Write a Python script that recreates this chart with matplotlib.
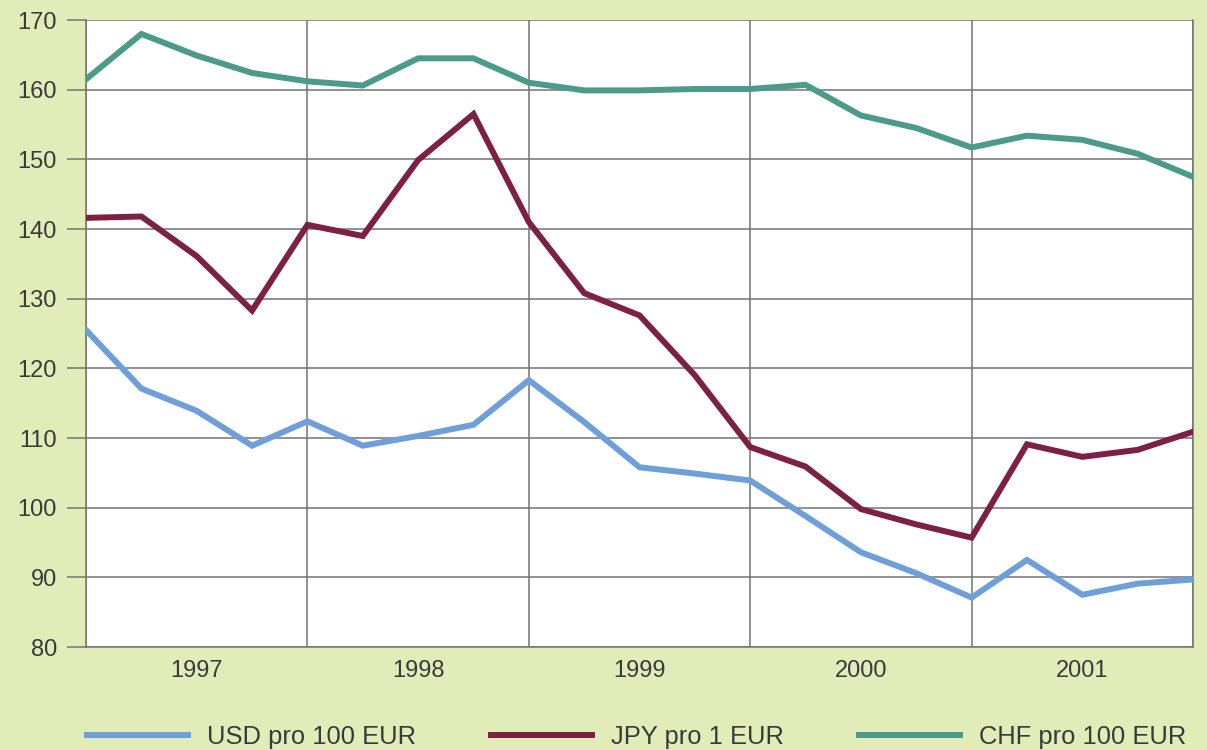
import matplotlib.pyplot as plt

plt.rcParams["font.family"] = ["Liberation Sans", "DejaVu Sans"]

# Quarterly exchange rates, 1997 - 2001 (21 points, start of 1997 to end of 2001)
quarters = list(range(21))
usd = [125.5, 117.1, 113.9, 108.9, 112.4, 108.9, 110.3, 111.9, 118.3, 112.3, 105.8,
       104.9, 103.9, 98.8, 93.6, 90.6, 87.1, 92.5, 87.5, 89.1, 89.7]
jpy = [141.6, 141.8, 136.1, 128.3, 140.6, 139.0, 149.9, 156.5, 141.0, 130.8, 127.6,
       119.0, 108.7, 105.9, 99.8, 97.6, 95.7, 109.1, 107.3, 108.3, 110.9]
chf = [161.5, 168.0, 164.9, 162.4, 161.2, 160.6, 164.5, 164.5, 161.0, 159.9, 159.9,
       160.1, 160.1, 160.7, 156.3, 154.5, 151.7, 153.4, 152.8, 150.8, 147.5]
years = ["1997", "1998", "1999", "2000", "2001"]

bg = "#e2ecb9"
txt = "#3a3a3a"
grid = "#737373"

fig = plt.figure(figsize=(12.07, 7.5), dpi=100, facecolor=bg)
ax = fig.add_axes([0.0713, 0.1373, 0.9171, 0.836])
ax.set_facecolor("white")

ax.plot(quarters, usd, color="#6f9fd8", lw=4.3, solid_joinstyle="miter", label="USD pro 100 EUR", zorder=3)
ax.plot(quarters, jpy, color="#7c2143", lw=4.3, solid_joinstyle="miter", label="JPY pro 1 EUR", zorder=3)
ax.plot(quarters, chf, color="#4b9a8a", lw=4.3, solid_joinstyle="miter", label="CHF pro 100 EUR", zorder=3)

ax.set_xlim(0, 20)
ax.set_ylim(80, 170)

ax.set_yticks(range(80, 171, 10))
ax.tick_params(axis="y", length=14, width=1.1, color=grid, pad=7, labelsize=17, labelcolor=txt)

# year boundaries as grid lines, year names centred between them
ax.set_xticks([0, 4, 8, 12, 16, 20])
ax.set_xticklabels([])
ax.set_xticks([2, 6, 10, 14, 18], minor=True)
ax.set_xticklabels(years, minor=True)
ax.tick_params(axis="x", which="both", length=0, pad=9, labelsize=17, labelcolor=txt)

ax.grid(True, which="major", color=grid, lw=1.1)
for s in ax.spines.values():
    s.set_color(grid)
    s.set_linewidth(1.1)
ax.spines["top"].set_visible(False)

fig.legend(loc="center left", bbox_to_anchor=(87 / 1207, 1 - 737 / 750), ncol=3, frameon=False,
           fontsize=18.4, labelcolor=txt, handlelength=3.95, handletextpad=0.74,
           columnspacing=2.95, borderpad=0, borderaxespad=0)

fig.savefig("out.png", dpi=100, facecolor=bg)
